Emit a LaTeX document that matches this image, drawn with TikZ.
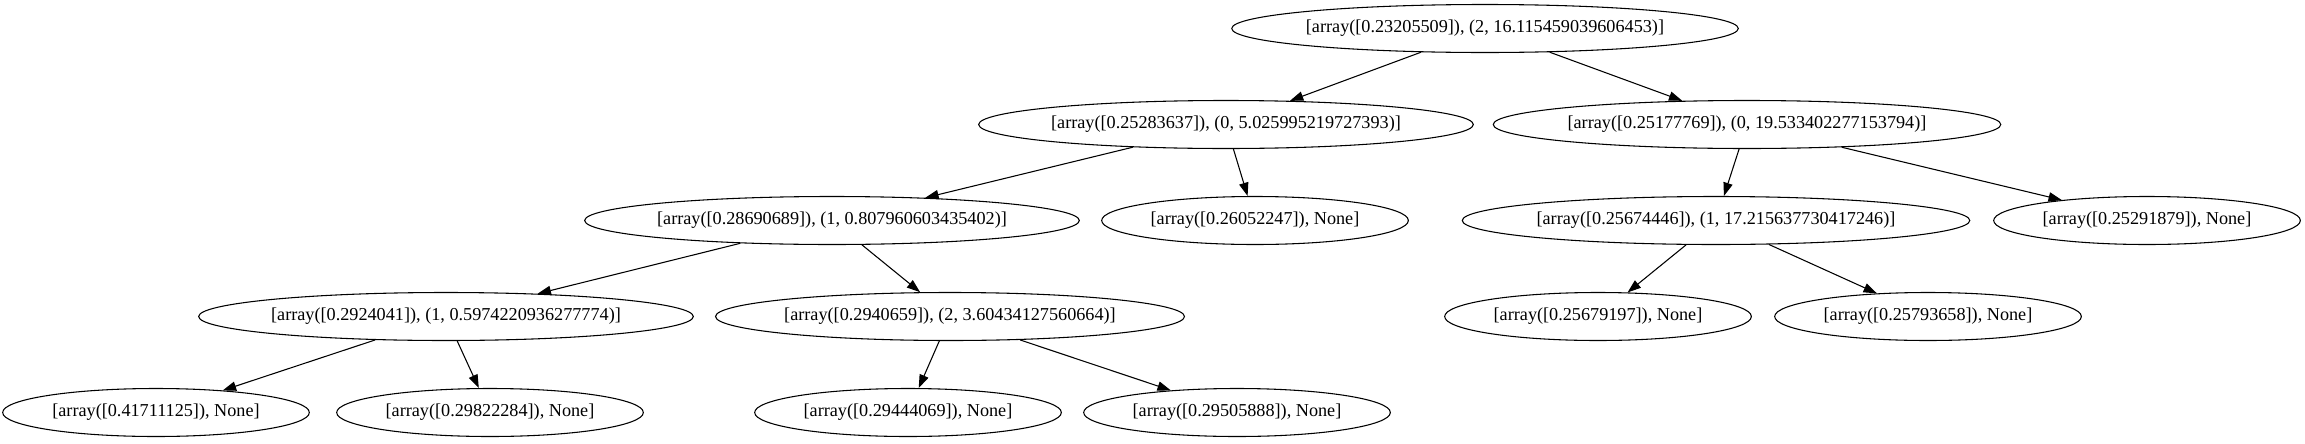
\documentclass[tikz,border=0pt]{standalone}
\usepackage{fontspec}
\setmainfont{Liberation Serif}
\usepackage{tikz}
\usetikzlibrary{arrows.meta,shapes.geometric}
\tikzstyle{treenode}=[draw,ellipse,line width=0.8pt,minimum height=36pt,minimum width=230pt,inner xsep=0pt,inner ysep=0pt,font=\fontsize{13.65}{16}\selectfont]
\tikzstyle{branch}=[line width=0.8pt,-{Triangle[length=10pt,width=7pt]}]

\begin{document}
\begin{tikzpicture}[x=0.75pt,y=-0.75pt]
    \useasboundingbox (0,0) rectangle (2305,443);
    % rank 0
    \node [treenode] (r) at (1485,28.5) {[array([0.23205509]), (2, 16.115459039606453)]};
    % rank 1
    \node [treenode] (rl) at (1226,124.5) {[array([0.25283637]), (0, 5.025995219727393)]};
    \node [treenode] (rr) at (1747,124.5) {[array([0.25177769]), (0, 19.533402277153794)]};
    % rank 2
    \node [treenode] (rll) at (832,220.5) {[array([0.28690689]), (1, 0.807960603435402)]};
    \node [treenode] (rlr) at (1255,220.5) {[array([0.26052247]), None]};
    \node [treenode] (rrl) at (1716,220.5) {[array([0.25674446]), (1, 17.215637730417246)]};
    \node [treenode] (rrr) at (2147,220.5) {[array([0.25291879]), None]};
    % rank 3
    \node [treenode] (rlll) at (446,316.5) {[array([0.2924041]), (1, 0.5974220936277774)]};
    \node [treenode] (rllr) at (950,316.5) {[array([0.2940659]), (2, 3.60434127560664)]};
    \node [treenode] (rrll) at (1598,316.5) {[array([0.25679197]), None]};
    \node [treenode] (rrlr) at (1928,316.5) {[array([0.25793658]), None]};
    % rank 4
    \node [treenode] (rllll) at (156,412.5) {[array([0.41711125]), None]};
    \node [treenode] (rlllr) at (490,412.5) {[array([0.29822284]), None]};
    \node [treenode] (rllrl) at (908,412.5) {[array([0.29444069]), None]};
    \node [treenode] (rllrr) at (1237,412.5) {[array([0.29505888]), None]};

    \foreach \a/\b in {r/rl, r/rr, rl/rll, rl/rlr, rr/rrl, rr/rrr, rll/rlll, rll/rllr,
                       rrl/rrll, rrl/rrlr, rlll/rllll, rlll/rlllr, rllr/rllrl, rllr/rllrr}
      \draw [branch] (\a) -- (\b);
  \end{tikzpicture}
\end{document}
